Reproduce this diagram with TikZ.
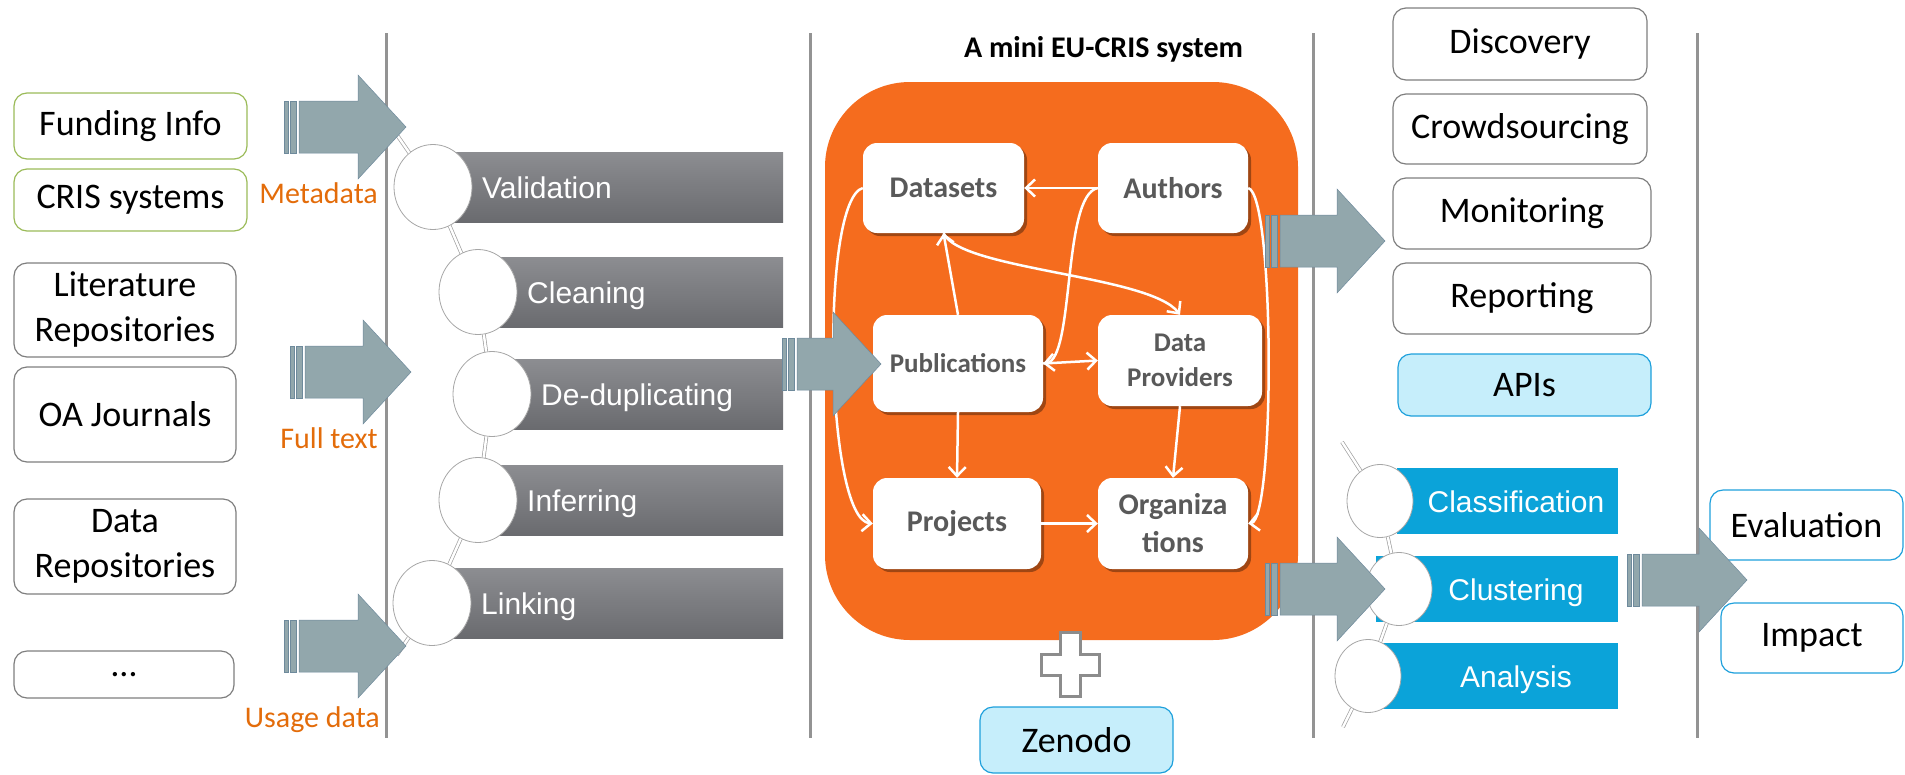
\documentclass[tikz,border=0pt]{standalone}
\usepackage{fontspec}
\setmainfont{Carlito}
\newfontfamily\barfont{Liberation Sans}
\usetikzlibrary{shapes.geometric,arrows.meta,shadows}

\definecolor{crisorange}{RGB}{245,108,30}
\definecolor{labelorange}{RGB}{227,108,10}
\definecolor{boxgreen}{RGB}{155,187,89}
\definecolor{boxgray}{RGB}{127,127,127}
\definecolor{apiblue}{RGB}{198,238,251}
\definecolor{apiborder}{RGB}{30,160,220}
\definecolor{barblue}{RGB}{11,163,217}
\definecolor{bartop}{RGB}{140,141,145}
\definecolor{barbot}{RGB}{106,107,111}
\definecolor{arrowgray}{RGB}{146,167,172}
\definecolor{arrowedge}{RGB}{110,138,156}
\definecolor{nodetext}{RGB}{89,89,89}

\tikzset{
    sepline/.style={draw=gray!85, line width=3pt},
    srcbox/.style={draw=boxgray, line width=1.2pt, rounded corners=13pt, fill=white,
        inner sep=0pt, align=center, font=\fontsize{36}{45}\selectfont},
    apibox/.style={srcbox, draw=apiborder, fill=apiblue},
    flowlabel/.style={text=labelorange, inner sep=0pt, font=\fontsize{30}{36}\selectfont},
    entity/.style={fill=white, rounded corners=14pt, inner sep=0pt, align=center,
        text=nodetext, font=\bfseries\fontsize{30}{38}\selectfont,
        drop shadow={shadow xshift=3pt, shadow yshift=-3pt, opacity=0.35, fill=black}},
    rel/.style={draw=white, line width=2.5pt, -{Straight Barb[length=9pt,width=17pt]}},
    stepcirc/.style={ellipse, draw=gray!70, line width=0.8pt, fill=white,
        inner sep=0pt, minimum width=78pt, minimum height=85pt},
    bartext/.style={text=white, inner sep=0pt, font=\barfont\fontsize{30}{36}\selectfont},
    chainline/.style={draw=gray!75, line width=0.7pt, double=white, double distance=2.4pt},
}

% block arrow with two stripes: left x, centre y, x where the head starts
\newcommand{\fatarrow}[3]{%
    \filldraw [fill=arrowgray, draw=arrowedge, line width=0.8pt] (#1,#2-26) rectangle (#1+4,#2+26);
    \filldraw [fill=arrowgray, draw=arrowedge, line width=0.8pt] (#1+6,#2-26) rectangle (#1+12,#2+26);
    \filldraw [fill=arrowgray, draw=arrowedge, line width=0.5pt] (#1+15,#2-26) -- (#3,#2-26) -- (#3,#2-52)
        -- (#3+48,#2) -- (#3,#2+52) -- (#3,#2+26) -- (#1+15,#2+26) -- cycle;
}

\begin{document}
\begin{tikzpicture}[x=1pt,y=-1pt]
    \useasboundingbox (0,0) rectangle (1905,774);
    % separators
    \foreach \x in {386,810,1313,1697} {
        \draw [sepline] (\x,33) -- (\x,738);
    }

    % sources
    \node [srcbox, draw=boxgreen, minimum width=233pt, minimum height=66pt] (fund) at (130.5,126) {Funding Info};
    \node [srcbox, draw=boxgreen, minimum width=233pt, minimum height=62pt] (cris) at (130.5,200) {CRIS systems};
    \node [srcbox, minimum width=222pt, minimum height=94pt] (litrep) at (125,310) {Literature\\Repositories};
    \node [srcbox, minimum width=222pt, minimum height=95pt] (oaj) at (125,414.5) {OA Journals};
    \node [srcbox, minimum width=222pt, minimum height=95pt] (datarep) at (125,546.5) {Data\\Repositories};
    \node [srcbox, minimum width=220pt, minimum height=47pt] (more) at (124,674.5) {…};

    \node [flowlabel, anchor=base east] (meta) at (378,203) {Metadata};
    \node [flowlabel, anchor=base east] (full) at (378,448) {Full text};
    \node [flowlabel, anchor=base east] (usage) at (380,727) {Usage data};

    % cleaning steps
    \foreach \cx/\cy/\nm/\txt in {433/187/val/Validation, 478/292/cle/Cleaning,
            492/394/ded/De-duplicating, 478/500/inf/Inferring, 432/603/lnk/Linking} {
        \shade [top color=bartop, bottom color=barbot] (\cx,\cy-35) rectangle (783,\cy+35);
        \node [stepcirc] (\nm) at (\cx,\cy) {};
        \node [bartext, anchor=base west] (\nm-t) at (\cx+49,\cy+11) {\txt};
    }
    \coordinate (chaintop) at (388,122);
    \coordinate (chainbot) at (397,655);
    \foreach \a/\b in {chaintop/val, val/cle, cle/ded, ded/inf, inf/lnk, lnk/chainbot} {
        \draw [chainline] (\a) -- (\b);
    }

    % the mini EU-CRIS system
    \node [anchor=base, inner sep=0pt, font=\bfseries\fontsize{30}{36}\selectfont] (title) at (1103.5,57) {A mini EU-CRIS system};
    \fill [crisorange, rounded corners=85pt] (825,82) rectangle (1298,640);

    \node [entity, minimum width=161pt, minimum height=90pt] (ds) at (943.5,188) {Datasets};
    \node [entity, minimum width=150pt, minimum height=90pt] (au) at (1173,188) {Authors};
    \node [entity, minimum width=170pt, minimum height=97pt, font=\bfseries\fontsize{27}{34}\selectfont] (pub) at (958,363.5) {Publications};
    \node [entity, minimum width=164pt, minimum height=91pt, font=\bfseries\fontsize{27}{35}\selectfont] (dp) at (1180,360.5) {Data\\Providers};
    \node [entity, minimum width=168pt, minimum height=91pt] (pr) at (957,523.5) {Projects};
    \node [entity, minimum width=150pt, minimum height=91pt] (org) at (1173,523.5) {Organiza\\tions};

    \draw [rel] (au.west) -- (ds.east);
    \draw [rel] (au.west) .. controls (1062,195) and (1075,360) .. (pub.east);
    \draw [rel] (pub.east) -- (dp.west);
    \draw [rel] (pub.north) -- (ds.south);
    \draw [rel] (ds.south) .. controls (960,270) and (1150,275) .. (dp.north);
    \draw [rel] (pub.south) -- (pr.north);
    \draw [rel] (dp.south) -- (org.north);
    \draw [rel] (pr.east) -- (org.west);
    \draw [rel] (ds.west) .. controls (820,200) and (825,520) .. (pr.west);
    \draw [rel] (au.east) .. controls (1275,195) and (1275,520) .. (org.east);

    % plus Zenodo
    \filldraw [fill=white, draw=gray!90, line width=3pt] (1060,632) -- (1080,632) -- (1080,654) -- (1099,654)
        -- (1099,675) -- (1080,675) -- (1080,696) -- (1060,696) -- (1060,675) -- (1041,675)
        -- (1041,654) -- (1060,654) -- cycle;
    \node [apibox, minimum width=193pt, minimum height=66pt] (zen) at (1076.5,740) {Zenodo};

    % services
    \node [srcbox, minimum width=254pt, minimum height=72pt] (disc) at (1520,44) {Discovery};
    \node [srcbox, minimum width=254pt, minimum height=70pt] (crowd) at (1520,129) {Crowdsourcing};
    \node [srcbox, minimum width=258pt, minimum height=71pt] (mon) at (1522,213.5) {Monitoring};
    \node [srcbox, minimum width=258pt, minimum height=71pt] (rep) at (1522,298.5) {Reporting};
    \node [apibox, minimum width=253pt, minimum height=62pt] (apis) at (1524.5,385) {APIs};

    % analysis steps
    \foreach \cx/\cy/\bx/\nm/\txt in {1380/501/1397/cla/Classification,
            1399/589/1376/clu/Clustering, 1368/676/1383/ana/Analysis} {
        \fill [barblue] (\bx,\cy-33) rectangle (1618,\cy+33);
        \node [stepcirc, minimum width=66pt, minimum height=73pt] (\nm) at (\cx,\cy) {};
        \node [bartext, anchor=base] (\nm-t) at (1516,\cy+11) {\txt};
    }
    \coordinate (bluetop) at (1342,442);
    \coordinate (bluebot) at (1343,727);
    \foreach \a/\b in {bluetop/cla, cla/clu, clu/ana, ana/bluebot} {
        \draw [chainline] (\a) -- (\b);
    }

    % outcome
    \node [srcbox, draw=apiborder, minimum width=193pt, minimum height=70pt] (eval) at (1806.5,525) {Evaluation};
    \node [srcbox, draw=apiborder, minimum width=182pt, minimum height=70pt] (imp) at (1812,638) {Impact};

    % flows
    \fatarrow{284}{127}{358}
    \fatarrow{290}{372}{363}
    \fatarrow{284}{646}{358}
    \fatarrow{782}{364}{833}
    \fatarrow{1265}{241}{1337}
    \fatarrow{1265}{589}{1337}
    \fatarrow{1627}{580}{1699}
\end{tikzpicture}
\end{document}
